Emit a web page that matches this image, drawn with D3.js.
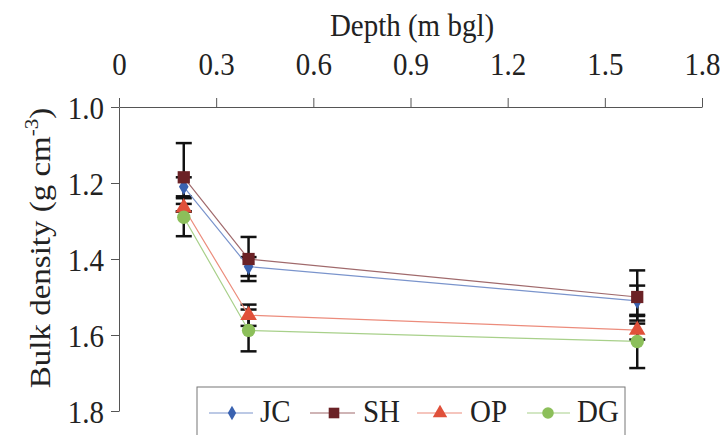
<!DOCTYPE html>
<html><head><meta charset="utf-8">
<script src="https://cdn.jsdelivr.net/npm/d3@7"></script>
</head><body style="margin:0;background:#fff">
<svg id="c" width="721" height="435"></svg>
<script>
const depths = [0.2, 0.4, 1.6];
const seriesNames = ["JC", "SH", "OP", "DG"];
const JC = [1.21, 1.42, 1.51];
const SH = [1.185, 1.40, 1.50];
const OP = [1.265, 1.548, 1.587];
const DG = [1.29, 1.588, 1.617];
const JC_err = [0.025, 0.025, 0.04];
const SH_err = [0.09, 0.058, 0.07];
const OP_err = [0.01, 0.028, 0.025];
const DG_err = [0.05, 0.055, 0.07];
const xTicks = [0, 0.3, 0.6, 0.9, 1.2, 1.5, 1.8];
const yTicks = [1.0, 1.2, 1.4, 1.6, 1.8];

const values = {JC, SH, OP, DG};
const errs = {JC: JC_err, SH: SH_err, OP: OP_err, DG: DG_err};
const colors = {JC: "#3a62b0", SH: "#6b2226", OP: "#e0503a", DG: "#8cbf5a"};
const lineColors = {JC: "#7a94cc", SH: "#a06a6c", OP: "#ec8c7c", DG: "#a8d08a"};
const symbols = {JC: d3.symbolDiamond, SH: d3.symbolSquare, OP: d3.symbolTriangle, DG: d3.symbolCircle};
const sizes = {JC: 80, SH: 150, OP: 120, DG: 140};
const FS = 29;
const SY = 1.12;
const FF = "'Liberation Serif'";
const TC = "#222";

const svg = d3.select("#c");
const x = d3.scaleLinear().domain([0, 1.8]).range([119, 702]);
const y = d3.scaleLinear().domain([1.0, 1.8]).range([107, 411]);

function txt(sel, fs) {
  fs = fs || FS;
  return sel.attr("font-family", "Liberation Serif").style("font-family", FF).attr("font-size", fs).style("font-size", fs + "px").attr("fill", TC).style("fill", TC);
}

// top axis
const xa = svg.append("g").attr("transform", `translate(0,${y(1.0)})`)
  .call(d3.axisTop(x).tickValues(xTicks).tickSize(9).tickSizeOuter(0).tickFormat(d => d === 0 ? "0" : d3.format(".1f")(d)));
xa.attr("font-family", "Liberation Serif").attr("font-size", FS);
xa.select(".domain").attr("stroke", "#555");
xa.selectAll(".tick line").attr("stroke", "#555");
txt(xa.selectAll(".tick text")).attr("dy", 0).attr("y", -32 / SY).attr("transform", `scale(1,${SY})`);

// left axis
const ya = svg.append("g").attr("transform", `translate(${x(0)},0)`)
  .call(d3.axisLeft(y).tickValues(yTicks).tickSize(8).tickSizeOuter(0).tickFormat(d3.format(".1f")));
ya.attr("font-family", "Liberation Serif").attr("font-size", FS);
ya.select(".domain").attr("stroke", "#555");
ya.selectAll(".tick line").attr("stroke", "#555");
txt(ya.selectAll(".tick text")).attr("x", -15).attr("dy", "0.34em").attr("transform", `scale(1,${SY})`);

// titles
txt(svg.append("text")).attr("transform", `translate(412,36) scale(1,${SY})`).attr("text-anchor", "middle").text("Depth (m bgl)");
const yt = txt(svg.append("text"), 33).attr("transform", "translate(50,248) rotate(-90) scale(1,0.9)").attr("text-anchor", "middle");
yt.append("tspan").text("Bulk density (g cm");
yt.append("tspan").style("font-size", "21px").attr("dy", -13).text("-3");
yt.append("tspan").attr("dy", 13).text(")");

// error bars
const eb = svg.append("g");
seriesNames.forEach(s => {
  depths.forEach((d, i) => {
    const v = values[s][i], e = errs[s][i];
    const cx = x(d);
    eb.append("line").attr("x1", cx).attr("x2", cx).attr("y1", y(v - e)).attr("y2", y(v + e)).attr("stroke", "#111").attr("stroke-width", 2.5);
    [v - e, v + e].forEach(t => eb.append("line").attr("x1", cx - 8).attr("x2", cx + 8).attr("y1", y(t)).attr("y2", y(t)).attr("stroke", "#111").attr("stroke-width", 2.5));
  });
});

// lines
const line = d3.line().x((d, i) => x(depths[i])).y(d => y(d));
seriesNames.forEach(s => {
  svg.append("path").datum(values[s]).attr("d", line).attr("fill", "none").attr("stroke", lineColors[s]).attr("stroke-width", 1.2);
});

// markers
seriesNames.forEach(s => {
  svg.append("g").selectAll("path").data(values[s]).join("path")
    .attr("transform", (d, i) => `translate(${x(depths[i])},${y(d)})`)
    .attr("d", d3.symbol().type(symbols[s]).size(sizes[s])())
    .attr("fill", colors[s]);
});

// legend
const lg = svg.append("g");
lg.append("rect").attr("x", 197).attr("y", 387).attr("width", 428).attr("height", 60).attr("fill", "#fff").attr("stroke", "#777").attr("stroke-width", 1);
const legendPos = {JC: [209, 253, 232, 260], SH: [310, 355, 334, 363], OP: [417, 462, 440, 470], DG: [527, 570, 548, 577]};
seriesNames.forEach(s => {
  const [a, b, m, t] = legendPos[s];
  lg.append("line").attr("x1", a).attr("x2", b).attr("y1", 413).attr("y2", 413).attr("stroke", lineColors[s]).attr("stroke-width", 1.2);
  lg.append("path").attr("transform", `translate(${m},413)`).attr("d", d3.symbol().type(symbols[s]).size(sizes[s] * 0.75)()).attr("fill", colors[s]);
  txt(lg.append("text")).attr("transform", `translate(${t},422) scale(1,${SY})`).text(s);
});
</script>
</body></html>
